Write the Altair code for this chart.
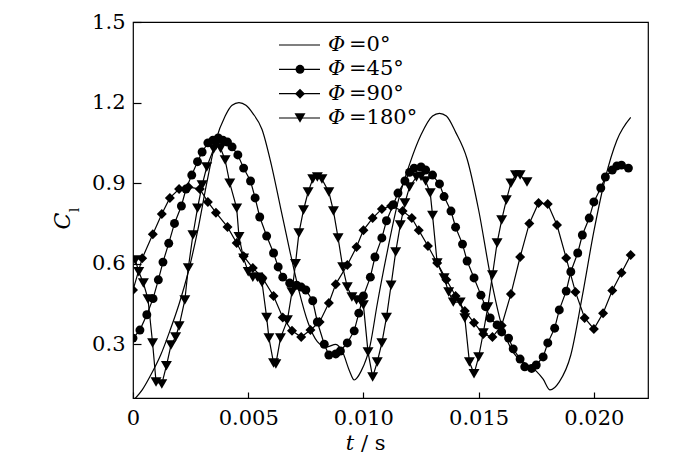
import altair as alt
import pandas as pd

series_names = ["Φ=0°", "Φ=45°", "Φ=90°", "Φ=180°"]
legend_rest = ["=0°", "=45°", "=90°", "=180°"]

# Φ = 0° (solid line, no markers)
t0 = [0, 0.0004, 0.0008, 0.0012, 0.0016, 0.002, 0.0024, 0.0028, 0.0032, 0.0036,
      0.004, 0.0043, 0.0046, 0.0049, 0.0052, 0.0056, 0.006, 0.0064, 0.0068, 0.0072,
      0.0076, 0.008, 0.0084, 0.0088, 0.0091, 0.0094, 0.0096, 0.0099, 0.0103, 0.0106,
      0.011, 0.0115, 0.012, 0.0125, 0.013, 0.0133, 0.0136, 0.014, 0.0145, 0.015,
      0.0155, 0.016, 0.0165, 0.017, 0.0175, 0.0178, 0.0181, 0.0185, 0.019, 0.0195,
      0.02, 0.0205, 0.021, 0.0216]
v0 = [0.09, 0.13, 0.19, 0.26, 0.35, 0.45, 0.57, 0.72, 0.90, 1.06,
      1.15, 1.19, 1.20, 1.19, 1.16, 1.10, 0.97, 0.81, 0.65, 0.50,
      0.38, 0.31, 0.29, 0.30, 0.27, 0.20, 0.167, 0.20, 0.30, 0.45,
      0.63, 0.83, 0.97, 1.08, 1.15, 1.16, 1.15, 1.09, 0.99, 0.80,
      0.56, 0.37, 0.27, 0.23, 0.20, 0.17, 0.13, 0.16, 0.26, 0.48,
      0.72, 0.92, 1.06, 1.145]

# Φ = 45° (circles)
t45 = [0, 0.0003, 0.0006, 0.00087, 0.0011, 0.0013, 0.00155, 0.0018, 0.0021, 0.0023,
       0.00255, 0.0028, 0.003, 0.00325, 0.00347, 0.0037, 0.0039, 0.0041, 0.0043, 0.00455,
       0.0048, 0.0051, 0.0053, 0.0055, 0.0058, 0.0061, 0.0063, 0.0065, 0.0068, 0.0071,
       0.0073, 0.0075, 0.0078, 0.008, 0.0083, 0.0085, 0.0088, 0.009, 0.0093, 0.0096,
       0.0098, 0.01, 0.0103, 0.0105, 0.0108, 0.011, 0.0113, 0.0115, 0.0118, 0.012,
       0.0122, 0.0125, 0.0127, 0.013, 0.0133, 0.0135, 0.0138, 0.014, 0.0143, 0.0145,
       0.0148, 0.0151, 0.0153, 0.0155, 0.0158, 0.016, 0.0163, 0.0165, 0.0168, 0.017,
       0.0173, 0.0175, 0.0178, 0.018, 0.0183, 0.0185, 0.0188, 0.019, 0.0193, 0.0195,
       0.0198, 0.02, 0.0203, 0.0205, 0.0208, 0.021, 0.0212, 0.0215]
v45 = [0.323, 0.353, 0.41, 0.47, 0.54, 0.606, 0.676, 0.75, 0.815, 0.878,
       0.93, 0.98, 1.016, 1.05, 1.06, 1.068, 1.06, 1.053, 1.035, 1.005,
       0.956, 0.908, 0.845, 0.774, 0.703, 0.64, 0.588, 0.55, 0.528, 0.52,
       0.513, 0.502, 0.462, 0.383, 0.30, 0.26, 0.264, 0.275, 0.305, 0.35,
       0.416, 0.48, 0.55, 0.625, 0.696, 0.76, 0.82, 0.863, 0.908, 0.94,
       0.956, 0.96, 0.949, 0.93, 0.897, 0.85, 0.796, 0.736, 0.673, 0.61,
       0.547, 0.483, 0.44, 0.398, 0.372, 0.346, 0.323, 0.283, 0.245, 0.216,
       0.21, 0.223, 0.253, 0.305, 0.36, 0.428, 0.498, 0.57, 0.64, 0.707,
       0.77, 0.83, 0.882, 0.923, 0.949, 0.964, 0.967, 0.956]

# Φ = 90° (diamonds)
t90 = [0, 0.0004, 0.00086, 0.00125, 0.0016, 0.002, 0.0024, 0.0029, 0.00325, 0.0036,
       0.0041, 0.0045, 0.0048, 0.0052, 0.0056, 0.0061, 0.0065, 0.0069, 0.0073, 0.0077,
       0.0081, 0.0085, 0.0088, 0.0093, 0.0097, 0.01, 0.0104, 0.0108, 0.0112, 0.0117,
       0.0121, 0.0124, 0.0128, 0.0132, 0.0136, 0.014, 0.0144, 0.0148, 0.0152, 0.0156,
       0.016, 0.0164, 0.0168, 0.0172, 0.0176, 0.018, 0.0184, 0.0188, 0.0192, 0.0196,
       0.02, 0.0204, 0.0208, 0.0212, 0.0216]
v90 = [0.502, 0.62, 0.71, 0.785, 0.845, 0.878, 0.886, 0.878, 0.83, 0.79,
       0.737, 0.677, 0.628, 0.584, 0.55, 0.48, 0.40, 0.35, 0.327, 0.353,
       0.383, 0.454, 0.524, 0.595, 0.662, 0.725, 0.77, 0.804, 0.815, 0.796,
       0.77, 0.725, 0.666, 0.603, 0.54, 0.48, 0.424, 0.38, 0.338, 0.327,
       0.37, 0.487, 0.625, 0.75, 0.826, 0.822, 0.744, 0.621, 0.495, 0.398,
       0.357, 0.416, 0.50, 0.566, 0.632]

# Φ = 180° (down triangles)
t180 = [0.0001, 0.00025, 0.00045, 0.00065, 0.00085, 0.001, 0.00125, 0.00145, 0.00165, 0.00185,
        0.002, 0.00225, 0.0024, 0.0026, 0.0028, 0.003, 0.0032, 0.0035, 0.0036, 0.0038,
        0.004, 0.0042, 0.0045, 0.0046, 0.0048, 0.005, 0.0052, 0.0054, 0.0056, 0.0058,
        0.0059, 0.0061, 0.0062, 0.0064, 0.0067, 0.0069, 0.00705, 0.0072, 0.0074, 0.0076,
        0.0078, 0.008, 0.0082, 0.0085, 0.0087, 0.0089, 0.0091, 0.0093, 0.0095, 0.0097,
        0.0099, 0.01, 0.0102, 0.0104, 0.0106, 0.0108, 0.011, 0.0112, 0.0114, 0.0116,
        0.0118, 0.012, 0.0123, 0.0125, 0.0127, 0.0129, 0.013, 0.0132, 0.0135, 0.0137,
        0.0139, 0.0142, 0.0144, 0.0146, 0.0148, 0.015, 0.0152, 0.0154, 0.0156, 0.0158,
        0.016, 0.0162, 0.0164, 0.0166, 0.0168, 0.0171]
v180 = [0.614, 0.57, 0.528, 0.469, 0.305, 0.16, 0.152, 0.22, 0.297, 0.327,
        0.368, 0.465, 0.584, 0.707, 0.807, 0.893, 0.96, 1.027, 1.04, 1.03,
        0.986, 0.90, 0.807, 0.70, 0.62, 0.57, 0.55, 0.55, 0.53, 0.40,
        0.323, 0.23, 0.227, 0.323, 0.39, 0.495, 0.60, 0.714, 0.80, 0.867,
        0.915, 0.923, 0.915, 0.867, 0.796, 0.696, 0.588, 0.513, 0.476, 0.465,
        0.458, 0.446, 0.271, 0.178, 0.234, 0.305, 0.40, 0.52, 0.644, 0.744,
        0.826, 0.886, 0.923, 0.926, 0.908, 0.863, 0.78, 0.603, 0.547, 0.495,
        0.457, 0.457, 0.398, 0.234, 0.19, 0.253, 0.342, 0.439, 0.558, 0.677,
        0.763, 0.837, 0.90, 0.93, 0.93, 0.904]

x_ticks = [0, 0.005, 0.010, 0.015, 0.020]
y_ticks = [0.3, 0.6, 0.9, 1.2, 1.5]

FONT = "DejaVu Serif"
FS = 21

solid_df = pd.DataFrame({"t": t0, "v": v0, "series": series_names[0]})
marker_df = pd.concat([
    pd.DataFrame({"t": t45, "v": v45, "series": series_names[1]}),
    pd.DataFrame({"t": t90, "v": v90, "series": series_names[2]}),
    pd.DataFrame({"t": t180, "v": v180, "series": series_names[3]}),
], ignore_index=True)

x_scale = alt.Scale(domain=[0, 0.02235], nice=False, zero=False)
y_scale = alt.Scale(domain=[0.1, 1.5], nice=False, zero=False)
shape_scale = alt.Scale(domain=series_names[1:], range=["circle", "diamond", "triangle-down"])
size_scale = alt.Scale(domain=series_names[1:], range=[80, 120, 110])

x_axis = alt.Axis(values=x_ticks, title=None, grid=False, domain=False,
                  tickSize=6, offset=-6, tickColor="black", tickWidth=1.2,
                  labelExpr="datum.value == 0 ? '0' : format(datum.value, '.3f')",
                  labelFont=FONT, labelFontSize=FS, labelColor="black",
                  labelPadding=9, labelFlush=False, labelOverlap=False)
y_axis = alt.Axis(values=y_ticks, title=None, grid=False, domain=False, format=".1f",
                  tickSize=8, offset=-8, tickColor="black", tickWidth=1.2,
                  labelFont=FONT, labelFontSize=FS, labelColor="black",
                  labelPadding=8, labelFlush=False, labelOverlap=False)

X = alt.X("t:Q", scale=x_scale, axis=x_axis)
Y = alt.Y("v:Q", scale=y_scale, axis=y_axis)

solid = alt.Chart(solid_df).mark_line(color="black", strokeWidth=1.2, interpolate="monotone", clip=True).encode(
    x=X, y=Y)
mlines = alt.Chart(marker_df).mark_line(color="black", strokeWidth=1.2, clip=True).encode(
    x=X, y=Y, detail="series:N")
mpoints = alt.Chart(marker_df).mark_point(filled=True, color="black", opacity=1, clip=True).encode(
    x=X, y=Y,
    shape=alt.Shape("series:N", scale=shape_scale, legend=None),
    size=alt.Size("series:N", scale=size_scale, legend=None))
main = alt.layer(solid, mlines, mpoints)

# legend drawn inside the plot
legend_df = pd.DataFrame({"row": [0, 1, 2, 3], "series": series_names, "rest": legend_rest})
LY = alt.Y("row:Q", scale=alt.Scale(domain=[0, 3], range=[23, 96]), axis=None)
leg_lines = alt.Chart(legend_df).mark_rule(color="black", strokeWidth=1.2).encode(
    x=alt.value(146), x2=alt.value(187), y=LY)
leg_pts = alt.Chart(legend_df).transform_filter("datum.row > 0").mark_point(
    filled=True, color="black", opacity=1).encode(
    x=alt.value(167), y=LY,
    shape=alt.Shape("series:N", scale=shape_scale, legend=None),
    size=alt.Size("series:N", scale=size_scale, legend=None))
leg_phi = alt.Chart(legend_df).mark_text(font=FONT, fontSize=FS, fontStyle="italic", align="left",
                                         baseline="middle", color="black").encode(
    x=alt.value(195), y=LY, text=alt.value("Φ"))
leg_rest = alt.Chart(legend_df).mark_text(font=FONT, fontSize=FS, align="left",
                                          baseline="middle", color="black").encode(
    x=alt.value(216), y=LY, text="rest:N")
legend = alt.layer(leg_lines, leg_pts, leg_phi, leg_rest)

one = pd.DataFrame({"k": [0]})
c_title = alt.Chart(one).mark_text(font=FONT, fontSize=22, fontStyle="italic", angle=270,
                                   align="center", baseline="middle", color="black").encode(
    x=alt.value(-70), y=alt.value(199), text=alt.value("C"))
l_title = alt.Chart(one).mark_text(font=FONT, fontSize=13, angle=270,
                                   align="center", baseline="middle", color="black").encode(
    x=alt.value(-58), y=alt.value(188), text=alt.value("l"))
t_title = alt.Chart(one).mark_text(font=FONT, fontSize=FS, fontStyle="italic",
                                   align="center", baseline="alphabetic", color="black").encode(
    x=alt.value(217), y=alt.value(428), text=alt.value("t"))
s_title = alt.Chart(one).mark_text(font=FONT, fontSize=FS,
                                   align="left", baseline="alphabetic", color="black").encode(
    x=alt.value(228), y=alt.value(428), text=alt.value("/ s"))
titles = alt.layer(c_title, l_title, t_title, s_title)

chart = alt.layer(main, legend, titles).resolve_scale(y="independent").properties(
    width=515, height=376,
    autosize=alt.AutoSizeParams(type="none"),
    padding={"left": 125, "top": 14, "right": 36, "bottom": 58},
    background="white",
).configure_view(stroke="black", strokeWidth=1.2)

chart.save("out.html", embed_options={"renderer": "svg", "actions": False})
